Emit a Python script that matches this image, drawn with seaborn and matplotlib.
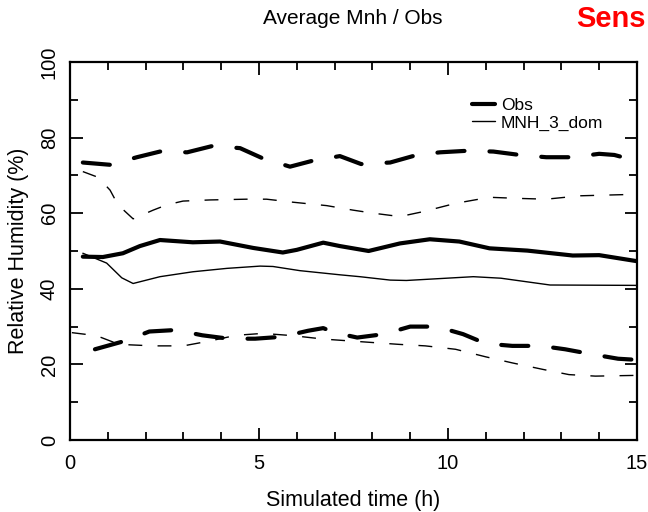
import matplotlib
matplotlib.use("Agg")
import matplotlib.pyplot as plt
from matplotlib.ticker import MultipleLocator
from matplotlib.lines import Line2D
import seaborn as sns

# Observed relative humidity: mean and spread envelope
obs_mean_t = [0.34, 0.87, 1.4, 1.85, 2.38, 3.25, 3.97, 4.85, 5.63, 6.0, 6.7, 7.14, 7.9, 8.73, 9.52, 10.3, 11.1, 12.1, 13.3, 14.0, 15.0]
obs_mean = [48.5, 48.4, 49.4, 51.3, 52.9, 52.3, 52.5, 50.8, 49.6, 50.3, 52.2, 51.3, 50.0, 52.0, 53.1, 52.5, 50.7, 50.1, 48.8, 48.9, 47.3]

obs_upper_t = [0.34, 1.06, 1.77, 2.38, 3.1, 3.78, 4.5, 5.1, 5.82, 6.43, 7.14, 7.7, 8.47, 9.18, 9.79, 10.5, 11.2, 11.9, 12.6, 13.3, 14.0, 14.4, 15.0]
obs_upper = [73.4, 72.8, 74.8, 76.3, 76.1, 77.8, 77.2, 74.5, 72.3, 73.9, 75.1, 73.0, 73.4, 75.4, 76.1, 76.5, 76.3, 75.4, 74.8, 74.8, 75.7, 75.4, 73.8]

obs_lower_t = [0.66, 1.45, 2.1, 2.8, 3.5, 4.2, 4.9, 5.6, 6.3, 6.7, 7.0, 7.6, 8.3, 9.0, 9.7, 10.4, 11.0, 11.7, 12.45, 13.1, 13.8, 14.5, 15.0]
obs_lower = [24.0, 26.2, 28.7, 29.1, 27.7, 26.8, 26.8, 27.3, 28.9, 29.6, 28.4, 27.1, 28.0, 30.0, 30.0, 28.0, 25.5, 24.9, 24.9, 24.0, 22.7, 21.5, 21.2]

# MNH_3_dom simulation: mean and spread envelope
mnh_mean_t = [0.34, 0.97, 1.37, 1.67, 2.38, 3.25, 4.15, 5.03, 5.37, 6.08, 7.14, 7.67, 8.47, 8.9, 10.67, 11.4, 12.7, 15.0]
mnh_mean = [49.4, 46.8, 42.9, 41.4, 43.2, 44.5, 45.4, 46.0, 45.9, 44.8, 43.7, 43.2, 42.3, 42.2, 43.2, 42.8, 41.0, 40.9]

mnh_upper_t = [0.34, 0.74, 1.06, 1.27, 1.67, 2.2, 2.56, 2.99, 3.7, 4.67, 5.2, 5.9, 6.79, 7.49, 8.02, 8.73, 9.34, 10.2, 11.1, 11.9, 12.6, 13.5, 15.0]
mnh_upper = [71.0, 69.5, 66.1, 62.2, 58.5, 60.8, 62.2, 63.2, 63.5, 63.7, 63.7, 62.9, 62.0, 60.8, 60.0, 59.1, 60.4, 62.6, 64.2, 63.9, 63.7, 64.6, 65.0]

mnh_lower_t = [0.05, 0.7, 1.3, 2.2, 3.0, 3.7, 4.4, 5.1, 5.9, 6.7, 7.7, 8.7, 9.4, 10.2, 11.0, 11.7, 12.5, 13.2, 13.9, 15.0]
mnh_lower = [28.4, 27.6, 25.3, 24.9, 24.9, 26.2, 27.7, 28.2, 27.6, 26.7, 26.0, 25.3, 24.9, 24.0, 22.0, 20.4, 18.7, 17.3, 16.9, 17.1]

legend_labels = ["Obs", "MNH_3_dom"]

sns.set_theme(style="white")
plt.rcParams["font.family"] = ["Liberation Sans", "DejaVu Sans"]
plt.rcParams.update({
    "text.color": "black",
    "axes.labelcolor": "black",
    "xtick.color": "black",
    "ytick.color": "black",
})

fig = plt.figure(figsize=(6.48, 5.12), dpi=100)
ax = fig.add_axes([0.108, 0.1406, 0.875, 0.7384])

thick = 3.0
thin = 1.0
thick_dash = (0, (6.5, 6))
thin_dash = (0, (10, 11))

sns.lineplot(x=obs_mean_t, y=obs_mean, ax=ax, color="black", linewidth=thick,
             estimator=None, sort=False, solid_capstyle="round")
sns.lineplot(x=obs_upper_t, y=obs_upper, ax=ax, color="black", linewidth=thick,
             linestyle=thick_dash, estimator=None, sort=False, dash_capstyle="round")
sns.lineplot(x=obs_lower_t, y=obs_lower, ax=ax, color="black", linewidth=thick,
             linestyle=thick_dash, estimator=None, sort=False, dash_capstyle="round")
sns.lineplot(x=mnh_mean_t, y=mnh_mean, ax=ax, color="black", linewidth=thin,
             estimator=None, sort=False)
sns.lineplot(x=mnh_upper_t, y=mnh_upper, ax=ax, color="black", linewidth=thin,
             linestyle=thin_dash, estimator=None, sort=False)
sns.lineplot(x=mnh_lower_t, y=mnh_lower, ax=ax, color="black", linewidth=thin,
             linestyle=thin_dash, estimator=None, sort=False)

ax.set_xlim(0, 15)
ax.set_ylim(0, 100)
ax.xaxis.set_major_locator(MultipleLocator(5))
ax.xaxis.set_minor_locator(MultipleLocator(1))
ax.yaxis.set_major_locator(MultipleLocator(20))
ax.yaxis.set_minor_locator(MultipleLocator(10))
ax.tick_params(which="both", direction="in", top=True, right=True, width=1.3,
               color="black", labelcolor="black", labelsize=14.5,
               bottom=True, left=True)
ax.tick_params(which="major", length=9, pad=8)
ax.tick_params(which="minor", length=6)
ax.tick_params(axis="x", which="major", pad=10)
for lbl in ax.get_yticklabels():
    lbl.set_rotation(90)
    lbl.set_va("center")
for sp in ax.spines.values():
    sp.set_linewidth(1.6)
    sp.set_color("black")

ax.set_xlabel("Simulated time (h)", fontsize=15.5, labelpad=12, color="black")
ax.set_ylabel("Relative Humidity (%)", fontsize=15.5, labelpad=8, color="black")

handles = [Line2D([], [], color="black", linewidth=thick),
           Line2D([], [], color="black", linewidth=thin)]
leg = fig.legend(handles, legend_labels, loc="upper left",
                 bbox_to_anchor=(0.705, 0.84), frameon=False, fontsize=12.5,
                 handlelength=1.3, handletextpad=0.35, labelspacing=0.15)
for t in leg.get_texts():
    t.set_color("black")

fig.text(0.545, 0.963, "Average Mnh / Obs", ha="center", va="center",
         fontsize=15, color="black")
fig.text(0.997, 0.963, "Sens", ha="right", va="center", fontsize=21,
         fontweight="bold", color="red",
         family=["Liberation Sans Narrow", "Liberation Sans", "DejaVu Sans"])

fig.savefig("out.png", dpi=100)
